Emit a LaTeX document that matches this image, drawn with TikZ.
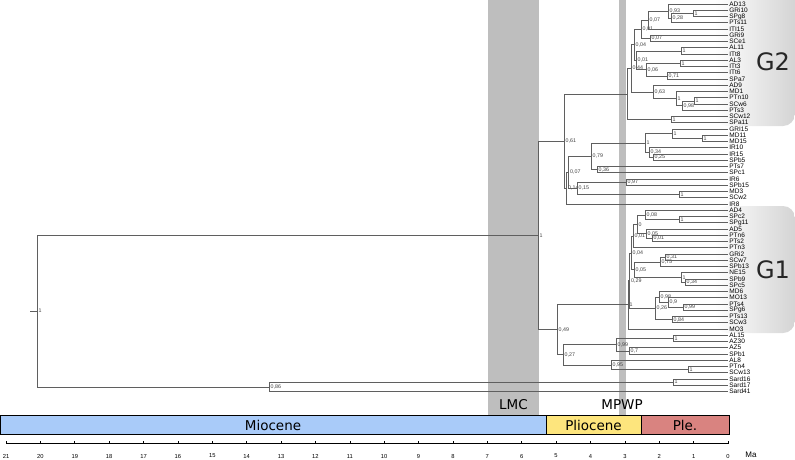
\documentclass[tikz,border=0pt]{standalone}
\usepackage{fontspec}
\setmainfont{Liberation Sans}
\newfontfamily\dejavu{DejaVu Sans}
\definecolor{miocene}{RGB}{169,203,249}
\definecolor{pliocene}{RGB}{253,229,125}
\definecolor{pleist}{RGB}{217,131,128}
\definecolor{eventgray}{RGB}{190,190,190}
\definecolor{boxgray}{RGB}{212,212,212}
\definecolor{branchgray}{RGB}{95,95,95}

\begin{document}
\begin{tikzpicture}[x=1pt, y=-1pt,
    branch/.style={draw=branchgray, line width=0.6pt},
    tip/.style={anchor=west, inner sep=1.2pt, font=\fontsize{6.5}{6.5}\selectfont},
    pp/.style={anchor=west, inner sep=1.5pt, font=\fontsize{5.3}{5.3}\selectfont, text=black!75},
    period/.style={draw=black, line width=0.7pt},
    big/.style={font=\dejavu\fontsize{13.5}{13.5}\selectfont},
    group/.style={font=\dejavu\fontsize{24}{24}\selectfont, text=black!85},
    axlab/.style={font=\fontsize{5.8}{5.8}\selectfont}]

\useasboundingbox (0,0) rectangle (795,460);

% climate events
\fill[eventgray] (488,0) rectangle (539,415.7);
\fill[eventgray] (619,0) rectangle (625.5,415.7);
\node[big] (lmc) at (513.5,405) {LMC};
\node[big] (mpwp) at (622,405) {MPWP};

% groups
\shade[left color=white, right color=boxgray, rounded corners=12pt] (715,-20) rectangle (795,126);
\shade[left color=white, right color=boxgray, rounded corners=12pt] (715,206) rectangle (795,333);
\node[group] (G2) at (773,62) {G2};
\node[group] (G1) at (773,270) {G1};

% tips
\node[tip] (AD13) at (728,4) {AD13};
\node[tip] (GRi10) at (728,10.25) {GRi10};
\node[tip] (SPg8) at (728,16.5) {SPg8};
\node[tip] (PTs11) at (728,22.75) {PTs11};
\node[tip] (ITI15) at (728,29) {ITI15};
\node[tip] (GRi9) at (728,35.25) {GRi9};
\node[tip] (SCe1) at (728,41.5) {SCe1};
\node[tip] (AL11) at (728,47.75) {AL11};
\node[tip] (ITt8) at (728,54) {ITt8};
\node[tip] (AL3) at (728,60.25) {AL3};
\node[tip] (ITt3) at (728,66.5) {ITt3};
\node[tip] (ITt6) at (728,72.75) {ITt6};
\node[tip] (SPa7) at (728,79) {SPa7};
\node[tip] (AD9) at (728,85.25) {AD9};
\node[tip] (MD1) at (728,91.5) {MD1};
\node[tip] (PTn10) at (728,97.75) {PTn10};
\node[tip] (SCw6) at (728,104) {SCw6};
\node[tip] (PTs3) at (728,110.25) {PTs3};
\node[tip] (SCw12) at (728,116.5) {SCw12};
\node[tip] (SPa11) at (728,122.75) {SPa11};
\node[tip] (GRI15) at (728,129) {GRI15};
\node[tip] (MD11) at (728,135.25) {MD11};
\node[tip] (MD15) at (728,141.5) {MD15};
\node[tip] (IR10) at (728,147.75) {IR10};
\node[tip] (IR15) at (728,154) {IR15};
\node[tip] (SPb5) at (728,160.25) {SPb5};
\node[tip] (PTs7) at (728,166.5) {PTs7};
\node[tip] (SPc1) at (728,172.75) {SPc1};
\node[tip] (IR6) at (728,179) {IR6};
\node[tip] (SPb15) at (728,185.25) {SPb15};
\node[tip] (MD3) at (728,191.5) {MD3};
\node[tip] (SCw2) at (728,197.75) {SCw2};
\node[tip] (IR8) at (728,204) {IR8};
\node[tip] (AD4) at (728,210.25) {AD4};
\node[tip] (SPc2) at (728,216.5) {SPc2};
\node[tip] (SPg11) at (728,222.75) {SPg11};
\node[tip] (AD5) at (728,229) {AD5};
\node[tip] (PTn6) at (728,235.25) {PTn6};
\node[tip] (PTs2) at (728,241.5) {PTs2};
\node[tip] (PTn3) at (728,247.75) {PTn3};
\node[tip] (GRi2) at (728,254) {GRi2};
\node[tip] (SCw7) at (728,260.25) {SCw7};
\node[tip] (SPb13) at (728,266.5) {SPb13};
\node[tip] (NE15) at (728,272.75) {NE15};
\node[tip] (SPb9) at (728,279) {SPb9};
\node[tip] (SPc5) at (728,285.25) {SPc5};
\node[tip] (MD6) at (728,291.5) {MD6};
\node[tip] (MO13) at (728,297.75) {MO13};
\node[tip] (PTs4) at (728,304) {PTs4};
\node[tip] (SPg6) at (728,310.25) {SPg6};
\node[tip] (PTs13) at (728,316.5) {PTs13};
\node[tip] (SCw3) at (728,322.75) {SCw3};
\node[tip] (MO3) at (728,329) {MO3};
\node[tip] (AL15) at (728,335.25) {AL15};
\node[tip] (AZ30) at (728,341.5) {AZ30};
\node[tip] (AZ5) at (728,347.75) {AZ5};
\node[tip] (SPb1) at (728,354) {SPb1};
\node[tip] (AL8) at (728,360.25) {AL8};
\node[tip] (PTn4) at (728,366.5) {PTn4};
\node[tip] (SCw13) at (728,372.75) {SCw13};
\node[tip] (Sard16) at (728,379) {Sard16};
\node[tip] (Sard17) at (728,385.25) {Sard17};
\node[tip] (Sard41) at (728,391.5) {Sard41};

% G2 clade
\node[pp] (g2a) at (693,13.38) {1};
\node[pp] (g2b) at (671,18.06) {0,28};
\node[pp] (g2c) at (668,11.03) {0,93};
\node[pp] (g2d) at (648,20.02) {0,07};
\node[pp] (g2e) at (650,38.38) {0,07};
\node[pp] (g2f) at (641,29.2) {0,01};
\node[pp] (g2g) at (681,50.88) {1};
\node[pp] (g2i) at (680,63.38) {1};
\node[pp] (g2j) at (667,75.88) {0,71};
\node[pp] (g2k) at (646,69.63) {0,06};
\node[pp] (g2x) at (636,60.25) {0,01};
\node[pp] (g2l) at (634,44.72) {0,04};
\node[pp] (g2p) at (694,100.88) {1};
\node[pp] (g2q) at (682,105.56) {0,98};
\node[pp] (g2r) at (676,98.53) {1};
\node[pp] (g2m) at (653,91.89) {0,63};
\node[pp] (g2n) at (631,68.3) {0,44};
\node[pp] (g2o) at (671,119.63) {1};
\coordinate (g2root) at (627,93.97);

\draw[branch] (g2a.west) |- (GRi10.west) (g2a.west) |- (SPg8.west);
\draw[branch] (g2b.west) |- (g2a.west) (g2b.west) |- (PTs11.west);
\draw[branch] (g2c.west) |- (AD13.west) (g2c.west) |- (g2b.west);
\draw[branch] (g2d.west) |- (g2c.west) (g2d.west) |- (ITI15.west);
\draw[branch] (g2e.west) |- (GRi9.west) (g2e.west) |- (SCe1.west);
\draw[branch] (g2f.west) |- (g2d.west) (g2f.west) |- (g2e.west);
\draw[branch] (g2g.west) |- (AL11.west) (g2g.west) |- (ITt8.west);
\draw[branch] (g2i.west) |- (AL3.west) (g2i.west) |- (ITt3.west);
\draw[branch] (g2j.west) |- (ITt6.west) (g2j.west) |- (SPa7.west);
\draw[branch] (g2k.west) |- (g2i.west) (g2k.west) |- (g2j.west);
\draw[branch] (g2x.west) |- (g2g.west) (g2x.west) |- (g2k.west);
\draw[branch] (g2l.west) |- (g2f.west) (g2l.west) |- (g2x.west);
\draw[branch] (g2p.west) |- (PTn10.west) (g2p.west) |- (SCw6.west);
\draw[branch] (g2q.west) |- (g2p.west) (g2q.west) |- (PTs3.west);
\draw[branch] (g2r.west) |- (MD1.west) (g2r.west) |- (g2q.west);
\draw[branch] (g2m.west) |- (AD9.west) (g2m.west) |- (g2r.west);
\draw[branch] (g2n.west) |- (g2l.west) (g2n.west) |- (g2m.west);
\draw[branch] (g2o.west) |- (SCw12.west) (g2o.west) |- (SPa11.west);
\draw[branch] (g2root) |- (g2n.west) (g2root) |- (g2o.west);

% middle clade
\node[pp] (mda) at (702,138.38) {1};
\node[pp] (mdb) at (672,133.69) {1};
\node[pp] (mdc) at (653,157.13) {0,25};
\node[pp] (mdd) at (649,152.44) {0,34};
\node[pp] (mde) at (645,143.06) {1};
\node[pp] (mdf) at (597,169.63) {0,36};
\node[pp] (mdg) at (591,156.34) {0,79};
\node[pp] (mdh) at (626,182.13) {0,97};
\node[pp] (mdi) at (679,194.63) {1};
\node[pp] (mdj) at (577,188.38) {0,15};
\node[pp] (mdk) at (568.5,172.36) {0,07};
\node[pp] (mdl) at (566.5,188.18) {0,14};
\node[pp] (n61) at (564,141.08) {0,61};

\draw[branch] (mda.west) |- (MD11.west) (mda.west) |- (MD15.west);
\draw[branch] (mdb.west) |- (GRI15.west) (mdb.west) |- (mda.west);
\draw[branch] (mdc.west) |- (IR15.west) (mdc.west) |- (SPb5.west);
\draw[branch] (mdd.west) |- (IR10.west) (mdd.west) |- (mdc.west);
\draw[branch] (mde.west) |- (mdb.west) (mde.west) |- (mdd.west);
\draw[branch] (mdf.west) |- (PTs7.west) (mdf.west) |- (SPc1.west);
\draw[branch] (mdg.west) |- (mde.west) (mdg.west) |- (mdf.west);
\draw[branch] (mdh.west) |- (IR6.west) (mdh.west) |- (SPb15.west);
\draw[branch] (mdi.west) |- (MD3.west) (mdi.west) |- (SCw2.west);
\draw[branch] (mdj.west) |- (mdh.west) (mdj.west) |- (mdi.west);
\draw[branch] (mdk.west) |- (mdg.west) (mdk.west) |- (mdj.west);
\draw[branch] (mdl.west) |- (mdk.west) (mdl.west) |- (IR8.west);
\draw[branch] (n61.west) |- (g2root) (n61.west) |- (mdl.west);

% G1 clade
\node[pp] (g1b) at (679,219.63) {1};
\node[pp] (g1a) at (645,214.94) {0,08};
\node[pp] (g1e) at (652,238.38) {0,01};
\node[pp] (g1d) at (646,233.69) {0,05};
\node[pp] (g1c) at (637,224.31) {0};
\node[pp] (g1f) at (633,236.03) {0,01};
\node[pp] (g1h) at (665,257.13) {0,31};
\node[pp] (g1i) at (660,261.81) {0,75};
\node[pp] (g1m) at (685,282.13) {0,34};
\node[pp] (g1n) at (681,277.44) {1};
\node[pp] (g1j) at (634,269.63) {0,05};
\node[pp] (g1g) at (631,252.83) {0,04};
\node[pp] (g1s) at (683,307.13) {0,99};
\node[pp] (g1t) at (668,302.44) {0,9};
\node[pp] (g1u) at (659,296.97) {0,98};
\node[pp] (g1v) at (672,319.63) {0,84};
\node[pp] (g1w) at (655,308.3) {0,26};
\node[pp] (g1k) at (629.5,280.57) {0,29};
\node[pp] (g1root) at (628,304.78) {1};

\draw[branch] (g1b.west) |- (SPc2.west) (g1b.west) |- (SPg11.west);
\draw[branch] (g1a.west) |- (AD4.west) (g1a.west) |- (g1b.west);
\draw[branch] (g1e.west) |- (PTn6.west) (g1e.west) |- (PTs2.west);
\draw[branch] (g1d.west) |- (AD5.west) (g1d.west) |- (g1e.west);
\draw[branch] (g1c.west) |- (g1a.west) (g1c.west) |- (g1d.west);
\draw[branch] (g1f.west) |- (g1c.west) (g1f.west) |- (PTn3.west);
\draw[branch] (g1h.west) |- (GRi2.west) (g1h.west) |- (SCw7.west);
\draw[branch] (g1i.west) |- (g1h.west) (g1i.west) |- (SPb13.west);
\draw[branch] (g1m.west) |- (SPb9.west) (g1m.west) |- (SPc5.west);
\draw[branch] (g1n.west) |- (NE15.west) (g1n.west) |- (g1m.west);
\draw[branch] (g1j.west) |- (g1i.west) (g1j.west) |- (g1n.west);
\draw[branch] (g1g.west) |- (g1f.west) (g1g.west) |- (g1j.west);
\draw[branch] (g1s.west) |- (PTs4.west) (g1s.west) |- (SPg6.west);
\draw[branch] (g1t.west) |- (MO13.west) (g1t.west) |- (g1s.west);
\draw[branch] (g1u.west) |- (MD6.west) (g1u.west) |- (g1t.west);
\draw[branch] (g1v.west) |- (PTs13.west) (g1v.west) |- (SCw3.west);
\draw[branch] (g1w.west) |- (g1u.west) (g1w.west) |- (g1v.west);
\draw[branch] (g1k.west) |- (g1g.west) (g1k.west) |- (g1w.west);
\draw[branch] (g1root.west) |- (g1k.west) (g1root.west) |- (MO3.west);

% lower clades
\node[pp] (lo1) at (673,338.38) {1};
\node[pp] (lo2) at (629,350.88) {0,7};
\node[pp] (lo3) at (616,344.63) {0,99};
\node[pp] (lo4) at (688,369.63) {1};
\node[pp] (lo5) at (611,364.94) {0,95};
\node[pp] (lo6) at (563,354.78) {0,27};
\node[pp] (n49) at (557,329.78) {0,49};
\node[pp] (n1) at (538,235.43) {1};
\node[pp] (sa) at (673,382.13) {1};
\node[pp] (sb) at (269,386.81) {0,86};
\node[pp] (root) at (37,311.12) {1};
\coordinate (rootstub) at (30,311.12);

\draw[branch] (lo1.west) |- (AL15.west) (lo1.west) |- (AZ30.west);
\draw[branch] (lo2.west) |- (AZ5.west) (lo2.west) |- (SPb1.west);
\draw[branch] (lo3.west) |- (lo1.west) (lo3.west) |- (lo2.west);
\draw[branch] (lo4.west) |- (PTn4.west) (lo4.west) |- (SCw13.west);
\draw[branch] (lo5.west) |- (AL8.west) (lo5.west) |- (lo4.west);
\draw[branch] (lo6.west) |- (lo3.west) (lo6.west) |- (lo5.west);
\draw[branch] (n49.west) |- (g1root.west) (n49.west) |- (lo6.west);
\draw[branch] (n1.west) |- (n61.west) (n1.west) |- (n49.west);
\draw[branch] (sa.west) |- (Sard16.west) (sa.west) |- (Sard17.west);
\draw[branch] (sb.west) |- (sa.west) (sb.west) |- (Sard41.west);
\draw[branch] (root.west) |- (n1.west) (root.west) |- (sb.west);
\draw[branch] (rootstub) -- (root.west);

% epochs
\draw[period, fill=miocene] (0,415.7) rectangle (546,434.3);
\draw[period, fill=pliocene] (546,415.7) rectangle (641,434.3);
\draw[period, fill=pleist] (641,415.7) rectangle (729,434.3);
\node[big] (mio) at (273,425) {Miocene};
\node[big] (plio) at (593.5,425) {Pliocene};
\node[big] (ple) at (685,425) {Ple.};

% time axis
\draw[line width=0.6pt] (6.02,443.7) -- (728,443.7);
\draw[line width=0.6pt] (728,441) -- (728,443.7) (693.62,441) -- (693.62,443.7)
  (659.24,441) -- (659.24,443.7) (624.86,441) -- (624.86,443.7)
  (590.48,441) -- (590.48,443.7) (556.1,441) -- (556.1,443.7)
  (521.72,441) -- (521.72,443.7) (487.34,441) -- (487.34,443.7)
  (452.96,441) -- (452.96,443.7) (418.58,441) -- (418.58,443.7)
  (384.2,441) -- (384.2,443.7) (349.82,441) -- (349.82,443.7)
  (315.44,441) -- (315.44,443.7) (281.06,441) -- (281.06,443.7)
  (246.68,441) -- (246.68,443.7) (212.3,441) -- (212.3,443.7)
  (177.92,441) -- (177.92,443.7) (143.54,441) -- (143.54,443.7)
  (109.16,441) -- (109.16,443.7) (74.78,441) -- (74.78,443.7)
  (40.4,441) -- (40.4,443.7) (6.02,441) -- (6.02,443.7);
\node[axlab] (t0) at (728,456) {0};
\node[axlab] (t1) at (693.62,456) {1};
\node[axlab] (t2) at (659.24,456) {2};
\node[axlab] (t3) at (624.86,456) {3};
\node[axlab] (t4) at (590.48,456) {4};
\node[axlab] (t5) at (556.1,456) {5};
\node[axlab] (t6) at (521.72,456) {6};
\node[axlab] (t7) at (487.34,456) {7};
\node[axlab] (t8) at (452.96,456) {8};
\node[axlab] (t9) at (418.58,456) {9};
\node[axlab] (t10) at (384.2,456) {10};
\node[axlab] (t11) at (349.82,456) {11};
\node[axlab] (t12) at (315.44,456) {12};
\node[axlab] (t13) at (281.06,456) {13};
\node[axlab] (t14) at (246.68,456) {14};
\node[axlab] (t15) at (212.3,456) {15};
\node[axlab] (t16) at (177.92,456) {16};
\node[axlab] (t17) at (143.54,456) {17};
\node[axlab] (t18) at (109.16,456) {18};
\node[axlab] (t19) at (74.78,456) {19};
\node[axlab] (t20) at (40.4,456) {20};
\node[axlab] (t21) at (6.02,456) {21};
\node[font=\fontsize{8}{8}\selectfont] (ma) at (751,455) {Ma};

\end{tikzpicture}
\end{document}
